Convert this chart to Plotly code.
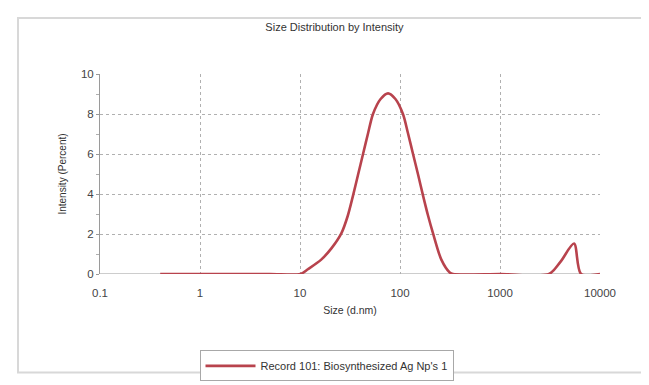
import plotly.graph_objects as go

# Data
size_nm = [0.4, 1, 5, 10.1, 12, 16.3, 20.6, 25.9, 30, 33.9, 38, 42.7, 48, 53.7, 64, 75.9,
           90, 107, 120, 135, 152, 170, 190, 214, 259, 314, 339, 1000, 3090, 4000, 5500, 6470, 10000]
intensity = [0, 0, 0, 0, 0.24, 0.72, 1.28, 2.03, 2.9, 3.92, 4.95, 6.0, 7.05, 8.0, 8.75, 9.03,
             8.75, 8.0, 7.05, 6.0, 4.95, 3.92, 2.95, 2.03, 0.72, 0.08, 0, 0, 0, 0.59, 1.52, 0, 0]
x_ticks = [0.1, 1, 10, 100, 1000, 10000]
x_tick_text = ["0.1", "1", "10", "100", "1000", "10000"]
y_ticks = [0, 2, 4, 6, 8, 10]
series_name = "Record 101: Biosynthesized Ag Np's 1"

fig = go.Figure()
fig.add_trace(go.Scatter(
    x=size_nm, y=intensity, mode="lines", name=series_name,
    line=dict(color="#b8434d", width=2.6, shape="spline", smoothing=0.8),
    showlegend=True,
))

FONT = "Liberation Sans, Arial, sans-serif"

fig.update_layout(
    width=649, height=385,
    margin=dict(l=92, r=57, t=66, b=110),
    paper_bgcolor="white", plot_bgcolor="white",
    font=dict(family=FONT, size=10, color="#333333"),
    title=dict(text="Size Distribution by Intensity", x=0.503, xanchor="center",
               yref="container", y=0.95, yanchor="middle", pad=dict(t=0, b=0),
               font=dict(size=11, color="#333333")),
    xaxis=dict(
        type="log", range=[-1, 4], tickvals=x_ticks, ticktext=x_tick_text,
        showgrid=True, gridcolor="#b0b0b0", griddash="dot", gridwidth=1,
        showline=False, zeroline=False,
        ticks="outside", ticklen=8, tickcolor="rgba(0,0,0,0)",
        tickfont=dict(size=11.5, color="#444444"),
        title=dict(text="Size (d.nm)", font=dict(size=10.5, color="#333333"), standoff=8),
    ),
    yaxis=dict(
        range=[0, 10], tickvals=y_ticks,
        showgrid=True, gridcolor="#b0b0b0", griddash="dot", gridwidth=1,
        showline=True, linecolor="#9a9a9a", linewidth=1, zeroline=False,
        ticks="outside", ticklen=3, tickcolor="#9a9a9a",
        minor=dict(tickvals=[1, 3, 5, 7, 9], ticks="outside", ticklen=3, tickcolor="#b0b0b0"),
        tickfont=dict(size=11.5, color="#444444"),
        title=dict(text="Intensity (Percent)", font=dict(size=10, color="#333333"), standoff=12),
    ),
    legend=dict(
        orientation="h", x=0.453, xanchor="center", y=-0.382, yanchor="top",
        bordercolor="#a8a8a8", borderwidth=1, bgcolor="white", itemwidth=50,
        font=dict(size=11, color="#333333"),
    ),
    shapes=[
        # outer frame
        dict(type="rect", xref="paper", yref="paper", x0=-0.164, x1=1.096, y0=-0.493, y1=1.28,
             line=dict(color="#d8d8d8", width=2), layer="below"),
        # baseline at zero
        dict(type="line", xref="paper", yref="y", x0=0, x1=1, y0=0, y1=0,
             line=dict(color="#9a9a9a", width=1), layer="below"),
    ],
)

fig.write_html("out.html")
